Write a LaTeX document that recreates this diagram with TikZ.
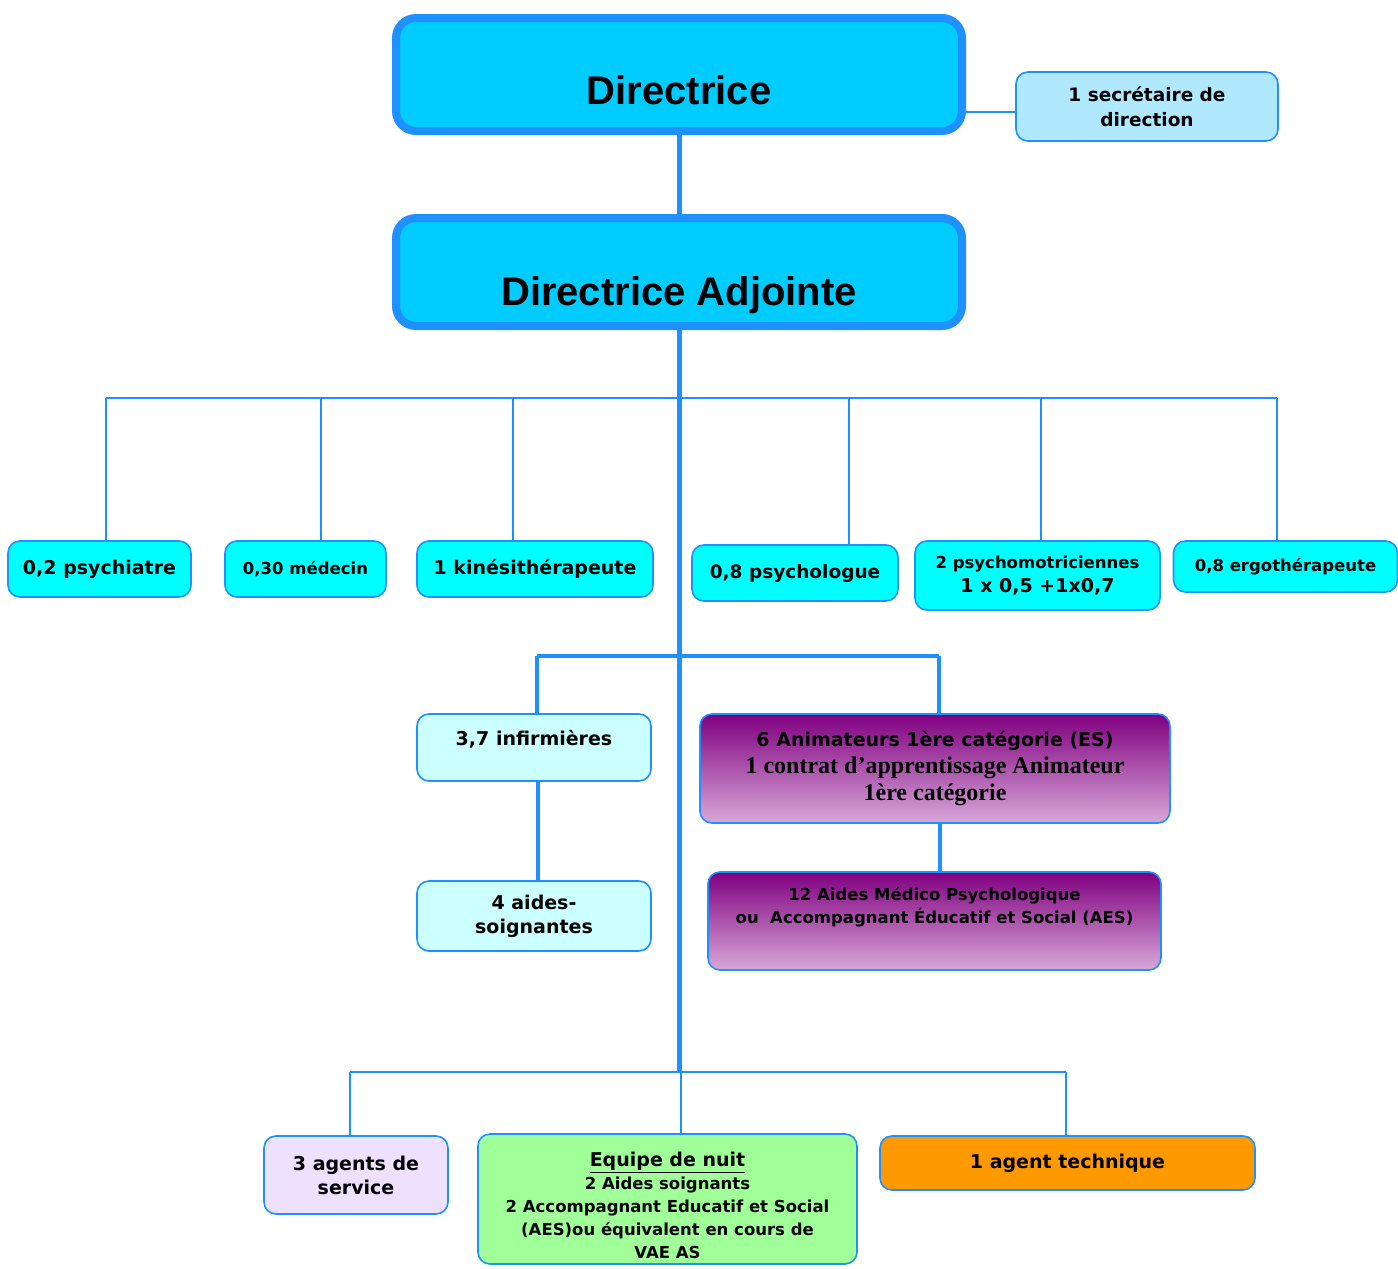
\documentclass[tikz,border=0pt]{standalone}
\usepackage{fontspec}
\setmainfont{DejaVu Sans}
\newfontfamily\arialfont{Liberation Sans}
\newfontfamily\timesfont{Liberation Serif}
\usepackage{tikz}
\usetikzlibrary{positioning}

\definecolor{linkblue}{HTML}{1E90FF}
\definecolor{headcyan}{HTML}{00CCFF}
\definecolor{paleblue}{HTML}{B0E8FF}
\definecolor{aqua}{HTML}{00FFFF}
\definecolor{palecyan}{HTML}{CCFFFF}
\definecolor{purpletop}{HTML}{800080}
\definecolor{purplebot}{HTML}{D8A8D8}
\definecolor{lavender}{HTML}{EEE0FF}
\definecolor{nightgreen}{HTML}{A0FF98}
\definecolor{techorange}{HTML}{FF9900}

\begin{document}
\begin{tikzpicture}[
    x=1pt, y=-1pt,
    box/.style={draw=linkblue, line width=1.6pt, rounded corners=12pt, align=center,
      inner sep=0pt, font=\bfseries\fontsize{19}{24}\selectfont},
    headbox/.style={box, fill=headcyan, line width=8pt, rounded corners=20pt,
      minimum width=566, font=\arialfont\bfseries\fontsize{40}{40}\selectfont},
    staffbox/.style={box, fill=aqua},
    carebox/.style={box, fill=palecyan},
    animbox/.style={box, top color=purpletop, bottom color=purplebot},
    link/.style={draw=linkblue, line width=1.8pt},
    trunk/.style={draw=linkblue, line width=5pt}
  ]
  \useasboundingbox (0,0) rectangle (1398,1269);

  % direction
  \node[headbox, minimum height=113] (dir) at (679,74.5) {\rule{0pt}{60pt}Directrice};
  \node[box, fill=paleblue, minimum width=262, minimum height=69,
    font=\bfseries\fontsize{18.5}{25}\selectfont] (secr) at (1147,106.5) {1 secrétaire de\\direction};
  \node[headbox, minimum height=108] (adj) at (679,272) {\rule{0pt}{75pt}Directrice Adjointe};

  % intervenants
  \node[staffbox, minimum width=183, minimum height=56] (psychiatre) at (99.5,569) {0,2 psychiatre};
  \node[staffbox, minimum width=161, minimum height=56, font=\bfseries\fontsize{16.5}{20}\selectfont]
    (medecin) at (305.5,569) {0,30 médecin};
  \node[staffbox, minimum width=236, minimum height=56] (kine) at (535,569) {1 kinésithérapeute};
  \node[staffbox, minimum width=206, minimum height=56, font=\bfseries\fontsize{18.5}{24}\selectfont]
    (psychologue) at (795,573) {0,8 psychologue};
  \node[staffbox, minimum width=245, minimum height=69] (psychomot) at (1037.5,575.5)
    {{\fontsize{16.5}{24}\selectfont 2 psychomotriciennes}\\1 x 0,5 +1x0,7};
  \node[staffbox, minimum width=224, minimum height=51, font=\bfseries\fontsize{16.5}{20}\selectfont]
    (ergo) at (1285.5,566.5) {0,8 ergothérapeute};

  % soins et animation
  \node[carebox, minimum width=234, minimum height=67] (infirm) at (534,747.5) {3,7 infirmières\\[-5pt]\mbox{}};
  \node[carebox, minimum width=234, minimum height=70] (aides) at (534,916) {4 aides-\\soignantes};
  \node[animbox, minimum width=470, minimum height=109, font=\bfseries\fontsize{19}{27}\selectfont]
    (anim) at (935,768.5) {6 Animateurs 1ère catégorie (ES)\\
    {\timesfont\fontsize{24}{27}\selectfont 1 contrat d’apprentissage Animateur}\\
    {\timesfont\fontsize{24}{27}\selectfont 1ère catégorie}};
  \node[animbox, minimum width=453, minimum height=98, font=\bfseries\fontsize{16.5}{23}\selectfont]
    (amp) at (934.5,921) {12 Aides Médico Psychologique\\ou\ \ Accompagnant Éducatif et Social (AES)\\[8pt]\mbox{}};

  % services
  \node[box, fill=lavender, minimum width=184, minimum height=78] (agents) at (356,1175) {3 agents de\\service};
  \node[box, fill=nightgreen, minimum width=379, minimum height=130, font=\bfseries\fontsize{16.5}{23}\selectfont]
    (nuit) at (667.5,1199) {{\fontsize{19}{23}\selectfont\rule{0pt}{28pt}\underline{Equipe de nuit}}\\2 Aides soignants\\
    2 Accompagnant Educatif et Social\\(AES)ou équivalent en cours de\\VAE AS};
  \node[box, fill=techorange, minimum width=375, minimum height=54] (tech) at (1067.5,1163) {1 agent technique};

  % liaisons
  \coordinate (secr-in) at (1016,112);
  \draw[link] (secr-in) -- (secr-in -| dir.east);
  \draw[trunk] (dir.south) -- (adj.north);
  \coordinate (spine-end) at (679,1072);
  \draw[trunk] (adj.south) -- (spine-end);

  \coordinate (staff-l) at (106,398);
  \coordinate (staff-r) at (1277,398);
  \draw[link] (staff-l) -- (staff-r);
  \foreach \x/\n in {106/psychiatre, 321/medecin, 513/kine, 849/psychologue, 1041/psychomot, 1277/ergo} {
    \coordinate (top-\n) at (\x,398);
    \draw[link] (top-\n) -- (top-\n |- \n.north);
  }

  \coordinate (care-l) at (537,656);
  \coordinate (care-r) at (939,656);
  \draw[trunk, line width=4pt] (care-l) -- (care-r);
  \draw[trunk, line width=4pt] (care-l) -- (care-l |- infirm.north);
  \draw[trunk, line width=4pt] (care-r) -- (care-r |- anim.north);
  \coordinate (infirm-out) at (538,781);
  \draw[trunk, line width=4pt] (infirm-out) -- (infirm-out |- aides.north);
  \coordinate (anim-out) at (940,823);
  \draw[trunk, line width=4pt] (anim-out) -- (anim-out |- amp.north);

  \coordinate (svc-l) at (350,1072);
  \coordinate (svc-r) at (1066,1072);
  \draw[link] (svc-l) -- (svc-r);
  \foreach \x/\n in {350/agents, 681/nuit, 1066/tech} {
    \coordinate (top-\n) at (\x,1072);
    \draw[link] (top-\n) -- (top-\n |- \n.north);
  }
\end{tikzpicture}
\end{document}
